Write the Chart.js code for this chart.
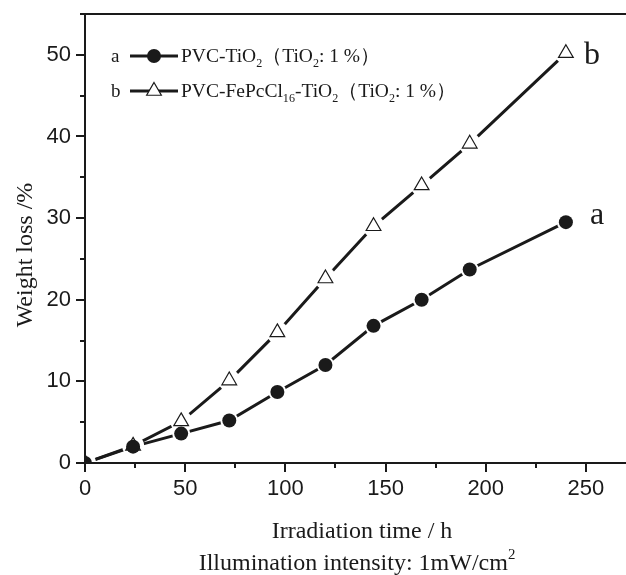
<!DOCTYPE html>
<html lang="en">
  <head>
    <meta charset="UTF-8" />
    <title>Weight loss</title>
    <script src="https://cdn.jsdelivr.net/npm/chart.js@4.4.0/dist/chart.umd.min.js"></script>
    <style>
      body {
        margin: 0;
        background: #fff;
      }
      canvas {
        display: block;
      }
    </style>
  </head>

  <body>
    <canvas id="chart" width="626" height="575"></canvas>
  </body>

  <script>
    // irradiation time (h)
    const hours = [0, 24, 48, 72, 96, 120, 144, 168, 192, 240];
    // a: PVC-TiO2
    const lossA = [0, 2.0, 3.6, 5.2, 8.7, 12.0, 16.8, 20.0, 23.7, 29.5];
    // b: PVC-FePcCl16-TiO2
    const lossB = [0, 2.1, 5.1, 10.1, 16.0, 22.6, 29.0, 34.0, 39.1, 50.2];

    const xTicks = [0, 50, 100, 150, 200, 250];
    const yTicks = [0, 10, 20, 30, 40, 50];

    const ink = "#1a1a1a";
    const serif = "'Liberation Serif', 'Times New Roman', serif";
    const sans = "'Liberation Sans', Arial, sans-serif";

    const toPoints = (ys) => hours.map((h, i) => ({ x: h, y: ys[i] }));

    // draw text with sub/superscript pieces: [text, "sub" | "sup" | ""]
    function richText(ctx, parts, x, y, size, align) {
      let w = 0;
      parts.forEach((p) => {
        ctx.font = (p[1] ? size * 0.62 : size) + "px " + serif;
        w += ctx.measureText(p[0]).width;
      });
      let cx = align === "center" ? x - w / 2 : x;
      ctx.textAlign = "left";
      ctx.textBaseline = "alphabetic";
      parts.forEach((p) => {
        ctx.font = (p[1] ? size * 0.62 : size) + "px " + serif;
        let dy = p[1] === "sub" ? size * 0.28 : p[1] === "sup" ? -size * 0.45 : 0;
        ctx.fillText(p[0], cx, y + dy);
        cx += ctx.measureText(p[0]).width;
      });
    }

    function marker(ctx, style, x, y, r) {
      ctx.beginPath();
      if (style === "circle") {
        ctx.arc(x, y, r, 0, Math.PI * 2);
        ctx.fillStyle = ink;
        ctx.fill();
      } else {
        for (let k = 0; k < 3; k++) {
          const a = (k * 2 * Math.PI) / 3;
          const px = x + Math.sin(a) * r;
          const py = y - Math.cos(a) * r;
          k === 0 ? ctx.moveTo(px, py) : ctx.lineTo(px, py);
        }
        ctx.closePath();
        ctx.fillStyle = "#fff";
        ctx.fill();
        ctx.lineWidth = 1.2;
        ctx.strokeStyle = ink;
        ctx.stroke();
      }
    }

    // drop the label overhang padding so the plot box sits where we want
    function noPad(s) {
      s.paddingTop = 0;
      s.paddingBottom = 0;
      s.paddingLeft = 0;
      s.paddingRight = 0;
    }

    const decorations = {
      id: "decorations",
      afterDraw(chart) {
        const ctx = chart.ctx;
        const area = chart.chartArea;
        const xs = chart.scales.x;
        const ys = chart.scales.y;
        ctx.save();
        ctx.strokeStyle = ink;
        ctx.lineWidth = 2;

        // frame: left, top, bottom (right side is cut off)
        ctx.beginPath();
        ctx.moveTo(area.left, area.top);
        ctx.lineTo(area.left, area.bottom);
        ctx.moveTo(area.left - 1, area.top);
        ctx.lineTo(chart.width, area.top);
        ctx.moveTo(area.left, area.bottom);
        ctx.lineTo(chart.width, area.bottom);
        ctx.stroke();

        // ticks, outward, minor ones shorter
        ctx.beginPath();
        for (let v = 0; v <= 270; v += 25) {
          const px = Math.round(xs.getPixelForValue(v));
          const len = v % 50 === 0 ? 9 : 5;
          ctx.moveTo(px, area.bottom);
          ctx.lineTo(px, area.bottom + len);
        }
        for (let v = 0; v <= 55; v += 5) {
          const py = Math.round(ys.getPixelForValue(v));
          const len = v % 10 === 0 ? 9 : 5;
          ctx.moveTo(area.left, py);
          ctx.lineTo(area.left - len, py);
        }
        ctx.stroke();

        ctx.fillStyle = ink;
        // axis titles
        richText(ctx, [["Irradiation time / h", ""]], 362, 538, 24, "center");
        richText(
          ctx,
          [["Illumination intensity: 1mW/cm", ""], ["2", "sup"]],
          357,
          570,
          24,
          "center"
        );
        ctx.save();
        ctx.translate(32, 255);
        ctx.rotate(-Math.PI / 2);
        ctx.fillStyle = ink;
        richText(ctx, [["Weight loss /%", ""]], 0, 0, 24, "center");
        ctx.restore();

        // legend
        const rows = [
          {
            key: "a",
            style: "circle",
            r: 7,
            y: 62,
            parts: [
              ["PVC-TiO", ""],
              ["2", "sub"],
              ["（TiO", ""],
              ["2", "sub"],
              [": 1 %）", ""],
            ],
          },
          {
            key: "b",
            style: "triangle",
            r: 8.5,
            y: 97,
            parts: [
              ["PVC-FePcCl", ""],
              ["16", "sub"],
              ["-TiO", ""],
              ["2", "sub"],
              ["（TiO", ""],
              ["2", "sub"],
              [": 1 %）", ""],
            ],
          },
        ];
        rows.forEach((row) => {
          const my = row.y - 6;
          ctx.fillStyle = ink;
          richText(ctx, [[row.key, ""]], 111, row.y, 19, "left");
          ctx.strokeStyle = ink;
          ctx.lineWidth = 3;
          ctx.beginPath();
          ctx.moveTo(130, my);
          ctx.lineTo(178, my);
          ctx.stroke();
          marker(ctx, row.style, 154, my, row.r);
          ctx.fillStyle = ink;
          richText(ctx, row.parts, 181, row.y, 19.5, "left");
        });

        // curve labels next to the last points
        const last = hours.length - 1;
        const lx = xs.getPixelForValue(hours[last]);
        ctx.fillStyle = ink;
        richText(ctx, [["b", ""]], lx + 18, ys.getPixelForValue(lossB[last]) + 11, 32, "left");
        richText(ctx, [["a", ""]], lx + 24, ys.getPixelForValue(lossA[last]) + 2, 32, "left");
        ctx.restore();
      },
    };

    const lineSet = (ys) => ({
      data: toPoints(ys),
      showLine: true,
      borderColor: ink,
      borderWidth: 3,
      pointRadius: 0,
      order: 5,
    });
    const haloSet = (ys, r) => ({
      data: toPoints(ys),
      showLine: false,
      pointRadius: r,
      pointBackgroundColor: "#fff",
      pointBorderWidth: 0,
      order: 3,
    });

    const config = {
      type: "scatter",
      data: {
        datasets: [
          lineSet(lossA),
          lineSet(lossB),
          haloSet(lossA, 9),
          haloSet(lossB, 11),
          {
            data: toPoints(lossA),
            pointStyle: "circle",
            pointRadius: 7,
            pointBackgroundColor: ink,
            pointBorderColor: ink,
            pointBorderWidth: 0,
            order: 1,
          },
          {
            data: toPoints(lossB),
            pointStyle: "triangle",
            pointRadius: 8.5,
            pointBackgroundColor: "#fff",
            pointBorderColor: ink,
            pointBorderWidth: 1.2,
            order: 1,
          },
        ],
      },
      options: {
        responsive: false,
        animation: false,
        events: [],
        layout: {
          autoPadding: false,
          padding: { top: 14, right: 0, left: 0, bottom: 0 },
        },
        plugins: {
          legend: { display: false },
          tooltip: { enabled: false },
        },
        scales: {
          x: {
            type: "linear",
            min: 0,
            max: 270,
            grid: { display: false, drawTicks: false },
            border: { display: false },
            afterBuildTicks: (s) => {
              s.ticks = xTicks.map((v) => ({ value: v }));
            },
            afterFit: (s) => {
              s.height = 112;
              noPad(s);
            },
            ticks: {
              padding: 13,
              color: ink,
              maxRotation: 0,
              font: { family: sans, size: 22 },
            },
          },
          y: {
            min: 0,
            max: 55,
            grid: { display: false, drawTicks: false },
            border: { display: false },
            afterBuildTicks: (s) => {
              s.ticks = yTicks.map((v) => ({ value: v }));
            },
            afterFit: (s) => {
              s.width = 85;
              noPad(s);
            },
            ticks: {
              padding: 14,
              color: ink,
              font: { family: sans, size: 22 },
            },
          },
        },
      },
      plugins: [decorations],
    };

    const chart = new Chart(document.getElementById("chart"), config);
  </script>
</html>
